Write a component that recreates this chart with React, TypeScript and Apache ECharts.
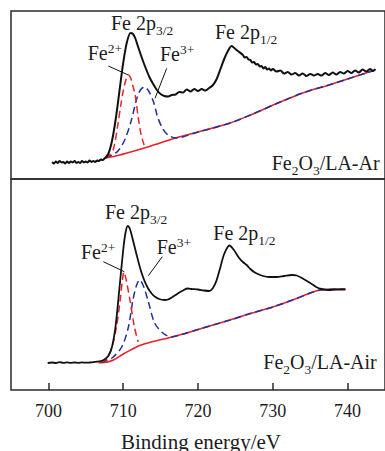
import React, { useEffect, useRef } from "react";
import * as echarts from "echarts";

// ---- data (binding energy eV, intensity a.u.) ----
const xTicks = [700, 710, 720, 730, 740];

const arSpectrum: [number, number][] = [
  [700.5, 17], [700.75, 15.5], [701, 17.5], [701.25, 16], [701.5, 18], [701.75, 16.5], [702, 17], [702.25, 15.5],
  [702.5, 17.5], [702.75, 16], [703, 17.5], [703.25, 16.5], [703.5, 18], [703.75, 16], [704, 17], [704.25, 16],
  [704.5, 18], [704.75, 16.5], [705, 17.5], [705.25, 16.5], [705.5, 18.5], [705.75, 17], [706, 18], [706.25, 17],
  [706.5, 18.5], [706.75, 18], [707, 19.5], [707.25, 19], [707.5, 20.5], [708, 25],
  [708.5, 38], [709, 60], [709.5, 88], [710, 116], [710.5, 137], [711, 146], [711.3, 145], [711.6, 141],
  [712, 132], [712.5, 121], [713, 111], [713.5, 102], [714, 95], [714.5, 89], [715, 85], [715.5, 83],
  [716, 82.5], [716.5, 84], [717, 84.5], [717.5, 87], [718, 86.5], [718.5, 89.5], [719, 87.5], [719.5, 90],
  [720, 88], [720.5, 90], [721, 88.5], [721.5, 91], [722, 94], [722.5, 100], [723, 110], [723.5, 120],
  [724, 128], [724.5, 133], [725, 130], [725.5, 127], [726, 124], [726.25, 121.5], [726.5, 122], [726.75, 119.5],
  [727, 119], [727.25, 116.5], [727.5, 117], [727.75, 114.5], [728, 115], [728.25, 112.5], [728.5, 113], [728.75, 110.5],
  [729, 112], [729.25, 109.5], [729.5, 110.5], [729.75, 108.5], [730, 110], [730.5, 107.5], [731, 108.5], [731.5, 105.5],
  [732, 107], [732.5, 104.5], [733, 106], [733.5, 103.5], [734, 105.5], [734.5, 103], [735, 105], [735.5, 103.5],
  [736, 105], [736.5, 103.5], [737, 106], [737.5, 104], [738, 106.5], [738.5, 104.5], [739, 107], [739.5, 105.5],
  [740, 108], [740.5, 106], [741, 108.5], [741.5, 106.5], [742, 109.5], [742.5, 107.5], [743, 110], [743.4, 108],
  [743.7, 110],
];
const arBaseline: [number, number][] = [
  [707.6, 21], [709, 23], [711, 27], [713.7, 33], [717, 41], [720, 47], [724.3, 56], [727, 64],
  [731, 77], [734, 86], [737.5, 94], [740, 100], [743.7, 109],
];
const arFe2: [number, number][] = [
  [707.6, 21], [708.2, 24], [708.7, 30], [709.3, 55], [709.7, 75], [710, 88], [710.4, 100], [710.7, 104],
  [711, 101], [711.3, 93], [711.6, 84], [712, 62], [712.4, 44], [712.8, 34],
];
const arFe3: [number, number][] = [
  [707.6, 21], [708.5, 24], [709.3, 28], [710.2, 39], [711.1, 59], [711.8, 80], [712.3, 89], [712.8, 92],
  [713.4, 88], [714.1, 76], [714.6, 62], [715.3, 50], [716, 44], [717, 41], [720, 47], [724.3, 56],
  [727, 64], [731, 77], [734, 86], [737.5, 94], [740, 100], [743.7, 109],
];

const airSpectrum: [number, number][] = [
  [699.9, 27], [700.5, 27.5], [701, 27], [701.5, 27.8], [702, 27.2], [702.5, 27.6], [703, 27.2], [703.5, 27.5],
  [704, 27.2], [704.5, 27.6], [705, 27.3], [705.5, 27.5], [706, 27.8], [706.5, 28.3], [707, 29], [707.5, 30.5],
  [708, 34], [708.5, 43], [709, 65], [709.5, 102], [710, 140], [710.3, 157], [710.6, 164], [710.9, 161],
  [711.3, 150], [711.8, 135], [712.3, 121], [712.8, 110], [713.3, 102], [713.8, 96.5], [714.3, 93], [714.8, 91],
  [715.5, 90], [716, 90.5], [716.5, 92.5], [717, 95], [717.5, 97.5], [718, 99.5], [718.6, 101.5], [719.2, 101],
  [720, 100.5], [720.8, 99.5], [721.5, 99], [722, 102], [722.5, 110], [723, 123], [723.5, 136], [724.2, 144.5],
  [724.8, 140], [725.5, 132], [726, 128], [726.5, 125], [727, 121], [727.5, 118], [728, 116], [728.7, 114],
  [729.5, 113], [730.5, 113], [731.5, 114], [732.5, 115], [733.2, 114.5], [734, 111.5], [735, 107], [735.8, 103],
  [736.5, 101], [737.5, 100], [738.5, 100.5], [739.7, 100.5],
];
const airBaseline: [number, number][] = [
  [706.7, 27.3], [707.5, 27.5], [708.7, 30], [710, 36], [711, 40], [712.2, 44.5], [714, 48.5], [716, 52],
  [718, 56], [720, 60.5], [722, 65], [724.3, 70], [727, 76.5], [730, 83], [733, 91], [735, 97],
  [736.3, 100], [737.5, 100.7], [739.7, 100.7],
];
const airFe2: [number, number][] = [
  [707, 28], [707.8, 31], [708.5, 43], [709.1, 63], [709.6, 90], [709.9, 110], [710.1, 118], [710.4, 110],
  [710.9, 90], [711.5, 63], [712, 48],
];
const airFe3: [number, number][] = [
  [707, 27.5], [708.5, 32], [709.8, 43], [710.7, 63], [711.3, 90], [711.8, 105], [712.2, 110], [712.7, 104],
  [713.3, 90], [714.2, 67], [715.3, 57], [716.4, 53], [718, 56], [720, 60.5], [722, 65], [724.3, 70],
  [727, 76.5], [730, 83], [733, 91], [735, 97], [736.3, 100], [737.5, 100.7], [739.7, 100.7],
];

const xMin = 695;
const xMax = 745;
const topYMax = 168;
const botYMax = 211;

const FONT = "Times New Roman";
const TXT = "#1c1c1c";
const RED = "#ea2228";
const BLUE = "#23309a";
const BLACK = "#111111";

type Piece = { t: string; k?: "sub" | "sup" };

function measure(text: string, size: number): number {
  const ctx = document.createElement("canvas").getContext("2d");
  if (!ctx) return text.length * size * 0.5;
  ctx.font = `${size}px "Times New Roman"`;
  return ctx.measureText(text).width;
}

function label(x: number, baseline: number, pieces: Piece[], fs = 20, small = 13.5): any[] {
  const out: any[] = [];
  let cx = x;
  for (const p of pieces) {
    const size = p.k ? small : fs;
    const base = baseline + (p.k === "sub" ? 5.5 : p.k === "sup" ? -6.5 : 0);
    out.push({
      type: "text",
      x: cx,
      y: base - 0.3375 * size,
      style: { text: p.t, fontSize: size, fontFamily: FONT, fill: TXT, align: "left", verticalAlign: "middle" },
    });
    cx += measure(p.t, size);
  }
  return out;
}

function leader(x1: number, y1: number, x2: number, y2: number) {
  return { type: "line", shape: { x1, y1, x2, y2 }, style: { stroke: BLACK, lineWidth: 1 } };
}

export default function App() {
  const ref = useRef<HTMLDivElement>(null);
  useEffect(() => {
    if (!ref.current) return;
    const chart = echarts.init(ref.current, undefined, { renderer: "svg" });
    const lineSeries = (data: [number, number][], idx: number, color: string, width: number, dashed: boolean, z: number) => ({
      type: "line",
      xAxisIndex: idx,
      yAxisIndex: idx,
      data,
      showSymbol: false,
      symbol: "none",
      smooth: 0.3,
      z,
      lineStyle: { color, width, type: dashed ? [7, 4] : "solid" },
    });
    const graphic: any[] = [
      ...label(111, 29.3, [{ t: "Fe 2p" }, { t: "3/2", k: "sub" }]),
      ...label(87.7, 60, [{ t: "Fe" }, { t: "2+", k: "sup" }]),
      ...label(160, 60.7, [{ t: "Fe" }, { t: "3+", k: "sup" }]),
      ...label(215, 39, [{ t: "Fe 2p" }, { t: "1/2", k: "sub" }]),
      ...label(271.7, 170, [{ t: "Fe" }, { t: "2", k: "sub" }, { t: "O" }, { t: "3", k: "sub" }, { t: "/LA-Ar" }]),
      leader(108.3, 66, 128.3, 75),
      leader(166.7, 68.3, 155, 98.3),
      ...label(105, 218.3, [{ t: "Fe 2p" }, { t: "3/2", k: "sub" }]),
      ...label(81, 258.3, [{ t: "Fe" }, { t: "2+", k: "sup" }]),
      ...label(156.7, 253.3, [{ t: "Fe" }, { t: "3+", k: "sup" }]),
      ...label(213.3, 239.3, [{ t: "Fe 2p" }, { t: "1/2", k: "sub" }]),
      ...label(263.3, 368.3, [{ t: "Fe" }, { t: "2", k: "sub" }, { t: "O" }, { t: "3", k: "sub" }, { t: "/LA-Air" }]),
      leader(103.3, 261.7, 124.3, 271.7),
      leader(162.3, 256.7, 148.3, 275.7),
      {
        type: "text",
        x: 201,
        y: 441.8,
        style: { text: "Binding energy/eV", fontSize: 21, fontFamily: FONT, fill: TXT, align: "center", verticalAlign: "middle" },
      },
    ];
    chart.setOption({
      animation: false,
      backgroundColor: "#ffffff",
      textStyle: { fontFamily: FONT },
      grid: [
        { left: 11, top: 11, right: -6, height: 168, show: true, borderColor: "#2a2a2a", borderWidth: 1.5, backgroundColor: "transparent" },
        { left: 11, top: 179, right: -6, height: 211, show: true, borderColor: "#2a2a2a", borderWidth: 1.5, backgroundColor: "transparent" },
      ],
      xAxis: [
        { type: "value", gridIndex: 0, min: xMin, max: xMax, show: false },
        {
          type: "value",
          gridIndex: 1,
          min: xMin,
          max: xMax,
          splitLine: { show: false },
          axisLine: { show: false },
          axisTick: { show: true, inside: true, length: 7, customValues: xTicks, lineStyle: { color: "#2a2a2a", width: 1.5 } },
          axisLabel: { show: true, customValues: xTicks, margin: 12, fontSize: 18, fontFamily: FONT, color: TXT },
        },
      ],
      yAxis: [
        { type: "value", gridIndex: 0, min: 0, max: topYMax, show: false },
        { type: "value", gridIndex: 1, min: 0, max: botYMax, show: false },
      ],
      series: [
        lineSeries(arBaseline, 0, RED, 1.6, false, 2),
        lineSeries(arFe3, 0, BLUE, 1.5, true, 3),
        lineSeries(arFe2, 0, RED, 1.5, true, 4),
        lineSeries(arSpectrum, 0, BLACK, 2, false, 5),
        lineSeries(airBaseline, 1, RED, 1.6, false, 2),
        lineSeries(airFe3, 1, BLUE, 1.5, true, 3),
        lineSeries(airFe2, 1, RED, 1.5, true, 4),
        lineSeries(airSpectrum, 1, BLACK, 1.8, false, 5),
      ],
      graphic,
    });
    return () => chart.dispose();
  }, []);
  return <div ref={ref} style={{ position: "fixed", left: 0, top: 0, width: 385, height: 451 }} />;
}
